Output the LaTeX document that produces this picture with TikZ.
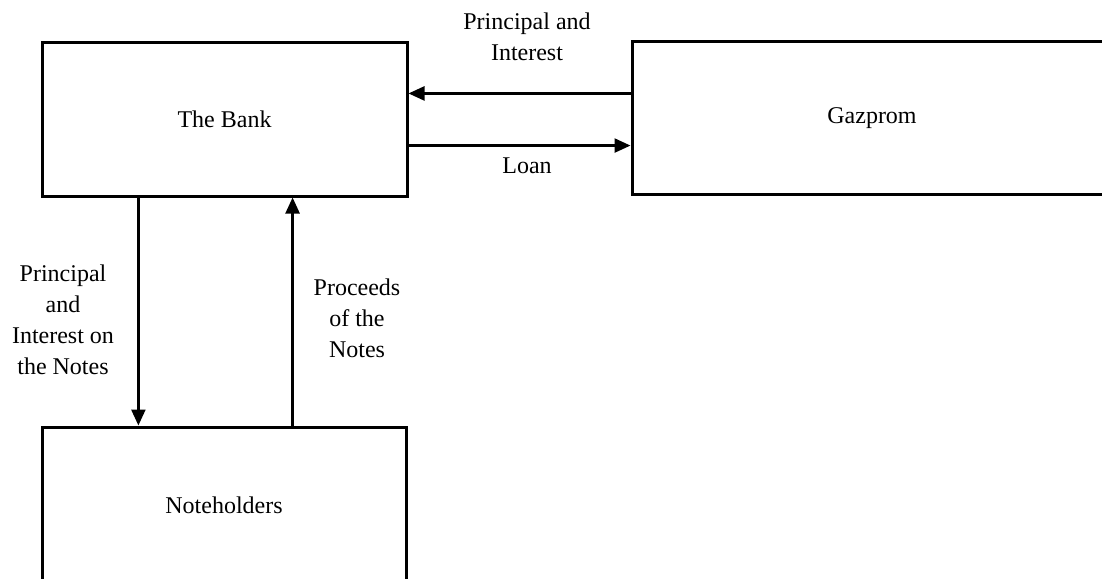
\documentclass[tikz,border=0pt]{standalone}
\usepackage{fontspec}
\setmainfont{Liberation Serif}
\usetikzlibrary{arrows.meta, positioning, calc}
\tikzset{
    box/.style={
        draw,
        line width=3pt,
        minimum width=365pt,
        minimum height=153pt,
        inner sep=0pt
    },
    line/.style={-{Triangle[length=16pt,width=14pt]}, line width=2.4pt},
    flowlabel/.style={align=center, inner sep=0pt},
    every node/.style={font=\fontsize{24}{31}\selectfont}
}
\begin{document}
\begin{tikzpicture}[x=1pt,y=-1pt]
\useasboundingbox (0,0) rectangle (1102,578);
\clip (0,0) rectangle (1102,578);

\node[box] (bank) at (224.5,119.5) {The Bank};
\node[box, minimum width=480pt, minimum height=152pt] (gaz) at (872,118) {Gazprom};
\node[box, minimum width=364pt, minimum height=156pt] (notes) at (224,505) {Noteholders};

% bank <-> gazprom
\coordinate (pi) at ($(bank.north east)!0.333!(bank.south east)$);
\coordinate (ln) at ($(bank.north east)!0.667!(bank.south east)$);
\draw[line] (gaz.west |- pi) -- (pi);
\draw[line] (ln) -- (gaz.west |- ln);

% bank <-> noteholders
\coordinate (dn) at ($(bank.south west)!0.266!(bank.south east)$);
\coordinate (up) at ($(bank.south west)!0.685!(bank.south east)$);
\draw[line] (dn) -- (dn |- notes.north);
\draw[line] (up |- notes.north) -- (up);

\node[flowlabel] (pilbl) at (527,37) {Principal and\\Interest};
\node[flowlabel] (loanlbl) at (527,166) {Loan};
\node[flowlabel] (pinlbl) at (63,320) {Principal\\and\\Interest on\\the Notes};
\node[flowlabel] (proclbl) at (357,318) {Proceeds\\of the\\Notes};
\end{tikzpicture}
\end{document}
